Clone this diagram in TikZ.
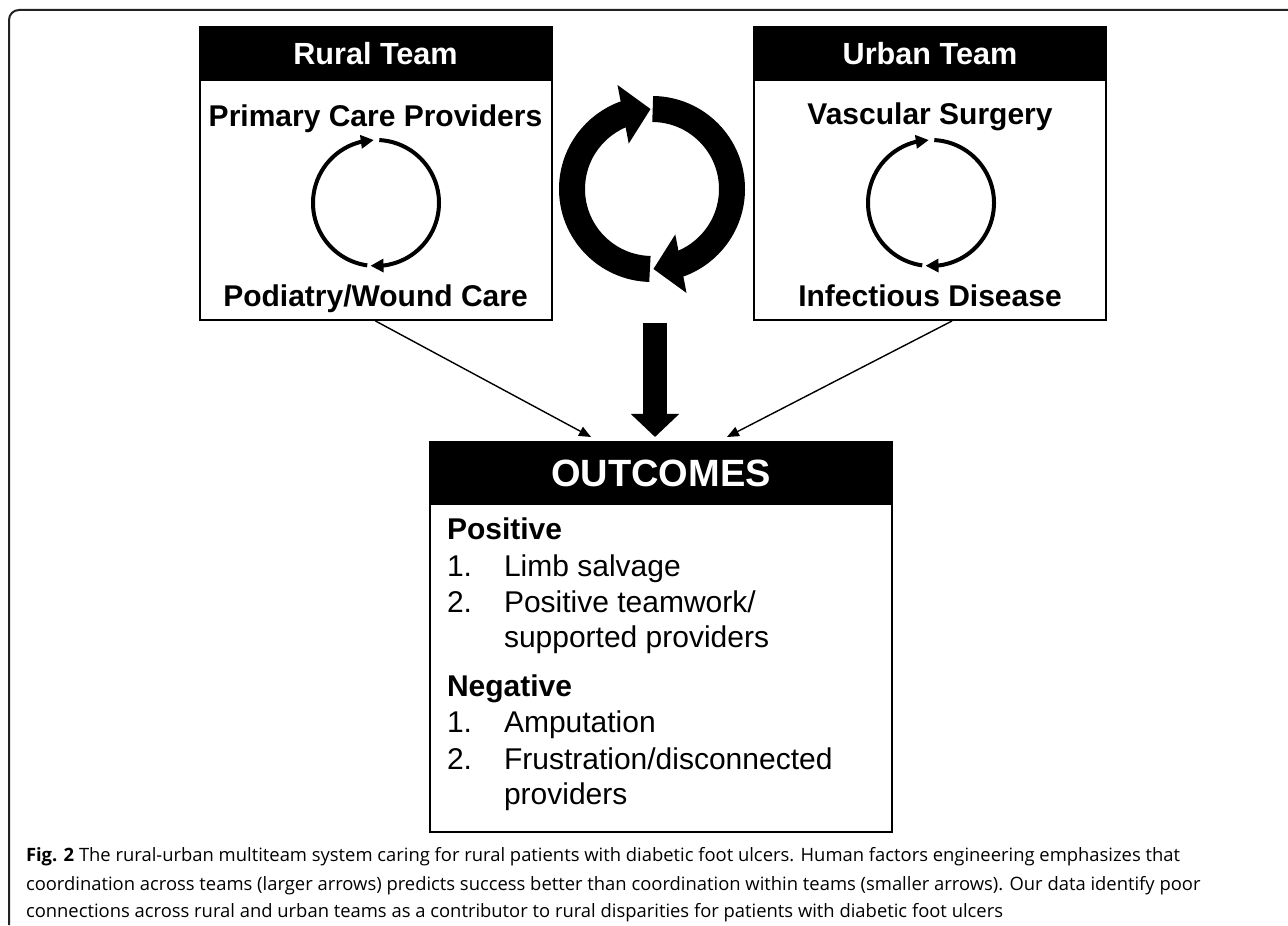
\documentclass[tikz,border=0pt]{standalone}
\usepackage{fontspec}
\setsansfont{Liberation Sans}
\newfontfamily\capfont{Open Sans}
\usetikzlibrary{arrows.meta, positioning, calc, bending}
\definecolor{cframe}{HTML}{222222}
\tikzset{
  every picture/.style={font=\sffamily, line width=1pt},
  team/.style={draw, minimum width=176pt, minimum height=146.5pt, inner sep=0pt},
  head/.style={draw, fill=black, text=white, inner sep=0pt, font=\sffamily\bfseries\fontsize{15.3}{18}\selectfont},
  lbl/.style={anchor=base, inner sep=0pt, font=\sffamily\bfseries\fontsize{15}{18}\selectfont},
  smallcyc/.style={-{Triangle[length=6.5pt, width=6.5pt]}, line width=2pt},
  bigcyc/.style={-{Triangle[length=14pt, width=29pt]}, line width=13pt},
  feed/.style={-{Triangle[length=6pt, width=5pt]}, line width=0.7pt},
  bigdown/.style={-{Triangle[length=11.5pt, width=23.5pt]}, line width=12pt},
}

\begin{document}
\begin{tikzpicture}[
    x=0.5pt, y=0.5pt,
    sect/.style={anchor=base west, inner sep=0pt, font=\sffamily\bfseries\fontsize{15}{18}\selectfont},
    item/.style={anchor=base west, inner sep=0pt, font=\sffamily\fontsize{15}{18}\selectfont},
    captxt/.style={anchor=base west, inner sep=0pt, font=\capfont\fontsize{9.2}{14}\selectfont},
  ]
  \useasboundingbox (0,0) rectangle (1288,925);
  \draw[cframe, rounded corners=5pt] (9,0) -- (9,915) -- (1288,915);

  % ---- teams
  \node[team] (rural) at (375.5,751.5) {};
  \node[team] (urban) at (930,751.5) {};
  \node[head, minimum width=176pt, minimum height=26.5pt, anchor=north] (rhead) at (rural.north) {Rural Team};
  \node[head, minimum width=176pt, minimum height=26.5pt, anchor=north] (uhead) at (urban.north) {Urban Team};

  \node[lbl] (pcp) at (375.5,798) {Primary Care Providers};
  \node[lbl] (pod) at (375.5,618) {Podiatry/Wound Care};
  \node[lbl] (vas) at (930,800) {Vascular Surgery};
  \node[lbl] (inf) at (930,618) {Infectious Disease};

  % ---- loops inside the teams
  \coordinate (rc) at (376,722);
  \coordinate (uc) at (931,722);
  \foreach \c in {rc, uc} {
    \draw[smallcyc] (\c) ++(262:63) arc[start angle=262, end angle=92, radius=63];
    \draw[smallcyc] (\c) ++(87:63) arc[start angle=87, end angle=-95, radius=63];
  }

  % ---- loop across the teams
  \coordinate (bc) at (652,736);
  \draw[bigcyc] (bc) ++(268.5:80) arc[start angle=268.5, end angle=91, radius=80];
  \draw[bigcyc] (bc) ++(89.5:80) arc[start angle=89.5, end angle=-89, radius=80];

  % ---- outcomes
  \node[team, minimum width=231pt, minimum height=195pt] (outc) at (661,288) {};
  \node[head, minimum width=231pt, minimum height=31pt, anchor=north,
        font=\sffamily\bfseries\fontsize{19}{22}\selectfont] (ohead) at (outc.north) {OUTCOMES};

  \node[sect] (pos) at (446,385) {Positive};
  \node[item] (n1) at (446,348) {1.};
  \node[item] (p1) at (503,348) {Limb salvage};
  \node[item] (n2) at (446,312) {2.};
  \node[item] (p2) at (503,312) {Positive teamwork/};
  \node[item] (p2b) at (503,277) {supported providers};
  \node[sect] (neg) at (446,228) {Negative};
  \node[item] (n3) at (446,192) {1.};
  \node[item] (q1) at (503,192) {Amputation};
  \node[item] (n4) at (446,155) {2.};
  \node[item] (q2) at (503,155) {Frustration/disconnected};
  \node[item] (q2b) at (503,120) {providers};

  % ---- into the outcomes
  \coordinate (inL) at (591,488);
  \coordinate (inR) at (727,488);
  \coordinate (drop) at (655,602);
  \draw[feed] (rural.south) -- (inL);
  \draw[feed] ([xshift=11pt]urban.south) -- (inR);
  \draw[bigdown, shorten >=2pt] (drop) -- (drop |- outc.north);

  % ---- caption
  \node[captxt] (cap1) at (25,63) {\textbf{Fig. 2} The rural-urban multiteam system caring for rural patients with diabetic foot ulcers. Human factors engineering emphasizes that};
  \node[captxt] (cap2) at (25,35) {coordination across teams (larger arrows) predicts success better than coordination within teams (smaller arrows). Our data identify poor};
  \node[captxt] (cap3) at (25,8) {connections across rural and urban teams as a contributor to rural disparities for patients with diabetic foot ulcers};
\end{tikzpicture}
\end{document}
